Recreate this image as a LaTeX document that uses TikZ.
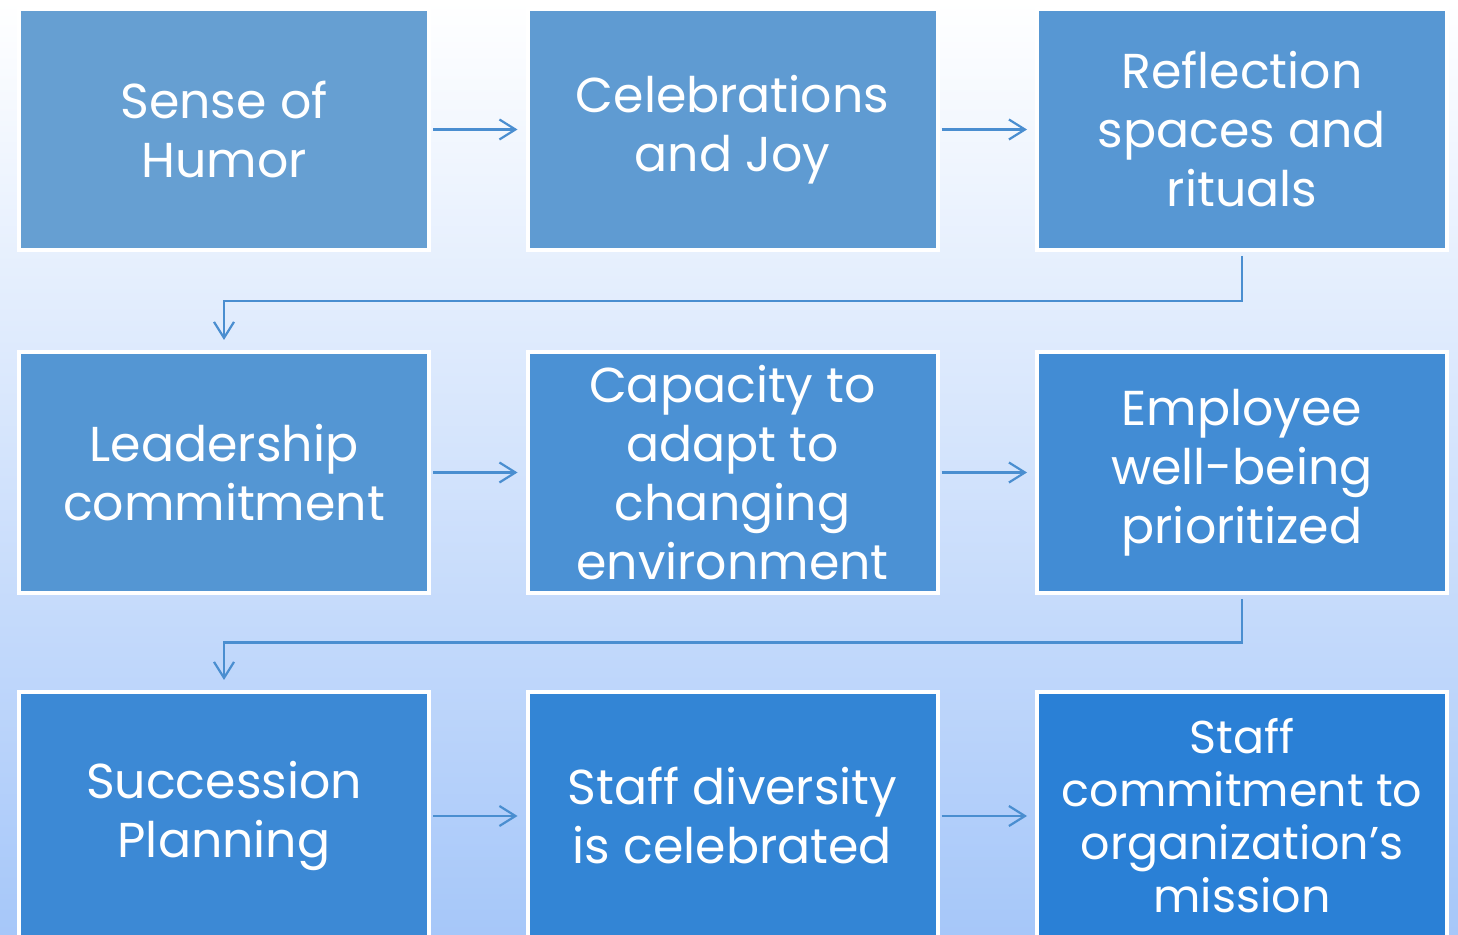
\documentclass[tikz,border=0pt]{standalone}
\usepackage{fontspec}
\setmainfont{Poppins}
\usetikzlibrary{arrows.meta,calc}
\definecolor{boxlight}{RGB}{102,159,210}
\definecolor{boxdark}{RGB}{42,128,214}
\definecolor{flowline}{RGB}{74,142,208}
\definecolor{bgbottom}{RGB}{166,199,249}
\begin{document}
\begin{tikzpicture}[x=0.5pt,y=-0.5pt,
    stage/.style={draw=white,line width=2pt,minimum width=205pt,minimum height=120.5pt,inner sep=0pt,
      text=white,align=center,font=\fontsize{24.5}{29.5}\selectfont},
    flow/.style={draw=flowline,line width=1.1pt,-{Straight Barb[length=8pt,width=10pt]}}]
  \useasboundingbox (0,0) rectangle (1458,935);
  \clip (0,0) rectangle (1458,935);
  \shade[top color=white,bottom color=bgbottom] (0,0) rectangle (1458,935);
  % first row
  \node[stage,fill=boxlight] (b11) at (224,129.5) {Sense of\\Humor};
  \node[stage,fill=boxdark!12!boxlight] (b12) at (732.5,129.5) {Celebrations\\and Joy};
  \node[stage,fill=boxdark!25!boxlight] (b13) at (1242,129.5) {Reflection\\spaces and\\rituals};
  % second row
  \node[stage,fill=boxdark!30!boxlight] (b21) at (224,472.5) {Leadership\\commitment};
  \node[stage,fill=boxdark!45!boxlight] (b22) at (732.5,472.5) {Capacity to\\adapt to\\changing\\environment};
  \node[stage,fill=boxdark!60!boxlight] (b23) at (1242,472.5) {Employee\\well-being\\prioritized};
  % third row, cut off at the bottom
  \node[stage,minimum height=124pt,fill=boxdark!70!boxlight] (b31) at (224,816) {Succession\\Planning};
  \node[stage,minimum height=124pt,fill=boxdark!85!boxlight] (b32) at (732.5,816) {Staff diversity\\is celebrated};
  \node[stage,minimum height=124pt,fill=boxdark,font=\fontsize{23}{26.5}\selectfont] (b33) at (1242,816) {Staff\\commitment to\\organization’s\\mission};
  % connectors
  \draw[flow,shorten <=1pt,shorten >=4pt] (b11.east) -- (b12.west);
  \draw[flow,shorten <=1pt,shorten >=4pt] (b12.east) -- (b13.west);
  \coordinate (k1) at ($(b13.south)!0.5!(b21.north)$);
  \draw[flow,shorten <=2pt,shorten >=5pt] (b13.south) |- (k1) -| (b21.north);
  \draw[flow,shorten <=1pt,shorten >=4pt] (b21.east) -- (b22.west);
  \draw[flow,shorten <=1pt,shorten >=4pt] (b22.east) -- (b23.west);
  \coordinate (k2) at ($(b23.south)!0.5!(b31.north)$);
  \draw[flow,shorten <=2pt,shorten >=5pt] (b23.south) |- (k2) -| (b31.north);
  \draw[flow,shorten <=1pt,shorten >=4pt] (b31.east) -- (b32.west);
  \draw[flow,shorten <=1pt,shorten >=4pt] (b32.east) -- (b33.west);
\end{tikzpicture}
\end{document}
